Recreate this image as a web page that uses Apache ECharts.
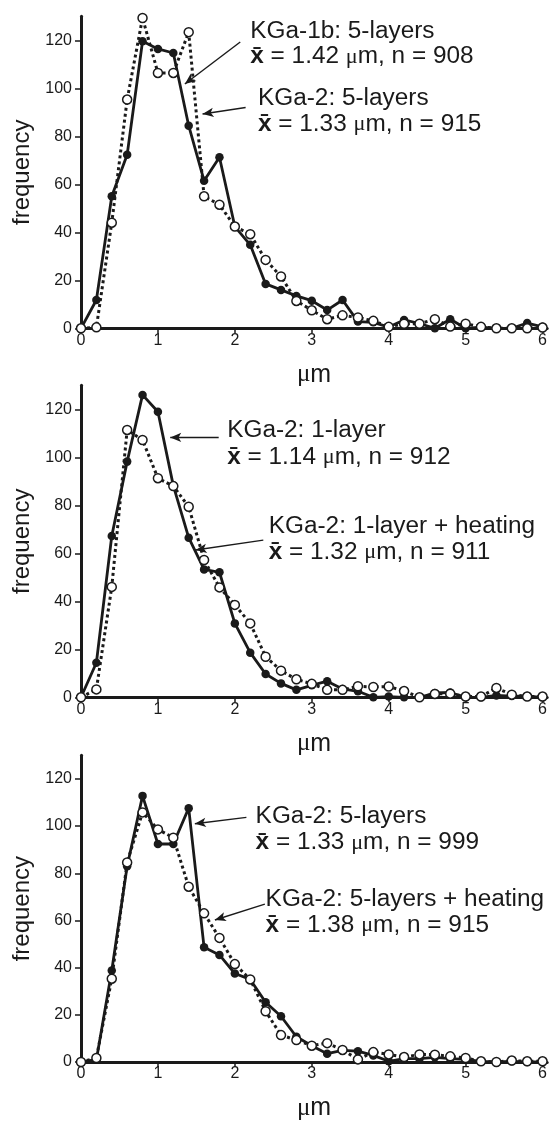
<!DOCTYPE html>
<html>
<head>
<meta charset="utf-8">
<script src="https://cdn.jsdelivr.net/npm/echarts@6/dist/echarts.min.js"></script>
<style>
html,body{margin:0;padding:0;background:#fff;}
#c{width:550px;height:1122px;}
</style>
</head>
<body>
<div id="c"></div>
<script>
// ---------- data ----------
const sizes = [0,0.2,0.4,0.6,0.8,1.0,1.2,1.4,1.6,1.8,2.0,2.2,2.4,2.6,2.8,3.0,3.2,3.4,3.6,3.8,4.0,4.2,4.4,4.6,4.8,5.0,5.2,5.4,5.6,5.8,6.0];
const xTicks = [0,1,2,3,4,5,6];
const yTicks = [0,20,40,60,80,100,120];

// panel 1
const kga1b5layers = [0,11.8,55,72.3,119.6,116.4,114.7,84.4,61.5,71.3,42.4,34.8,18.5,16,13.5,11.5,7.6,11.8,2.8,2.5,0.5,3.5,2,0,3.8,0,0.5,0,0,2.2,0.6];
const kga2_5layers_a = [0,0.4,44,95.3,129.3,106.4,106.4,123.4,55,51.5,42.4,39.2,28.5,21.6,11.4,7.5,3.8,5.4,4.5,3.1,0.6,1.9,1.9,3.8,0.7,1.9,0.6,0,0,0,0.3];
// panel 2
const kga2_1layer = [0,14.4,67.2,98.2,126,119,88.2,66.5,53.3,52.1,30.8,18.6,9.7,5.8,3.1,5,6.7,3.5,2.5,0,0.3,0,0,1.8,2,0,0,0.8,0.5,0.5,0];
const kga2_1layerHeat = [0,3.3,46,111.4,107.2,91.3,88,79.4,57.2,45.8,38.5,30.8,16.9,11.1,7.5,5.6,3.1,3.1,4.6,4.3,4.5,2.6,0,1.4,1.5,0.3,0.3,3.9,1.1,0.3,0.3];
// panel 3
const kga2_5layers_b = [0,1,38.8,83,112.8,92.4,92.4,107.6,48.6,45.4,37.5,35,25.3,19.4,10.7,6.9,3.5,4.9,4.6,2.8,0.3,1.4,1.4,2,1.4,1.1,0.3,0,0.3,0,0];
const kga2_5layersHeat = [0,1.7,35.3,84.6,105.8,98.6,95.1,74.3,63,52.6,41.5,35,21.5,11.4,9.3,6.9,8,5.1,1.1,4.2,3.2,2.1,3.2,3.1,2.4,1.7,0.3,0,0.6,0.3,0.3];

const panels = [
  {solid: kga1b5layers, dotted: kga2_5layers_a},
  {solid: kga2_1layer, dotted: kga2_1layerHeat},
  {solid: kga2_5layers_b, dotted: kga2_5layersHeat}
];

// annotation labels (title line, stats line) and their anchor in data coords
const labelTitles = [
  ['KGa-1b: 5-layers', 'KGa-2: 5-layers'],
  ['KGa-2: 1-layer', 'KGa-2: 1-layer + heating'],
  ['KGa-2: 5-layers', 'KGa-2: 5-layers + heating']
];
const labelMeans = [['1.42','1.33'],['1.14','1.32'],['1.33','1.38']];
const labelCounts = [['908','915'],['912','911'],['999','915']];
// [x, yTitleLine, yStatsLine]
const labelAnchors = [
  [[2.20,123.5,113.0],[2.30,95.5,85.0]],
  [[1.90,111.0,99.8],[2.44,71.0,60.2]],
  [[2.27,104.0,92.8],[2.40,68.8,58.0]]
];
// arrows: [[tailX,tailY],[tipX,tipY]]
const arrows = [
  [[[2.07,119.3],[1.35,101.8]], [[2.14,92.0],[1.58,89.3]]],
  [[[1.79,108.3],[1.16,108.3]], [[2.37,65.5],[1.49,61.4]]],
  [[[2.15,103.7],[1.48,101.0]], [[2.39,66.9],[1.74,60.2]]]
];

// ---------- layout ----------
const INK = '#1a1a1a';
const FONT = '"Liberation Sans", Arial, Helvetica, sans-serif';
const gridTops = [16.3, 385.3, 755.3];

const grids = [], xAxes = [], yAxes = [], series = [];
panels.forEach((p, i) => {
  grids.push({left: 81, top: gridTops[i], width: 468, height: 312, containLabel: false});
  xAxes.push({
    type: 'value', gridIndex: i, min: 0, max: 6.06,
    axisLine: {show: true, onZero: false, lineStyle: {color: INK, width: 3}},
    axisTick: {show: true, length: 5, lineStyle: {color: INK, width: 1.5}, customValues: xTicks},
    axisLabel: {show: true, color: INK, fontSize: 16, fontFamily: FONT, margin: 4, customValues: xTicks},
    splitLine: {show: false},
    name: '{mu|\u03bc}m', nameLocation: 'middle', nameGap: 34,
    nameTextStyle: {color: INK, fontSize: 25, fontFamily: FONT,
      rich: {mu: {fontSize: 25, fontFamily: '"Liberation Serif", "Times New Roman", serif', color: INK}}}
  });
  yAxes.push({
    type: 'value', gridIndex: i, min: 0, max: 130,
    axisLine: {show: true, onZero: false, lineStyle: {color: INK, width: 3}},
    axisTick: {show: true, length: 6, lineStyle: {color: INK, width: 1.5}, customValues: yTicks},
    axisLabel: {show: true, color: INK, fontSize: 16, fontFamily: FONT, margin: 9, customValues: yTicks},
    splitLine: {show: false},
    name: 'frequency', nameLocation: 'middle', nameRotate: 90, nameGap: 47,
    nameTextStyle: {color: INK, fontSize: 24, fontFamily: FONT}
  });
  series.push({
    type: 'line', xAxisIndex: i, yAxisIndex: i, clip: false,
    data: sizes.map((s, k) => [s, p.solid[k]]),
    symbol: 'circle', symbolSize: 8.5, showAllSymbol: true,
    itemStyle: {color: INK, borderColor: INK, borderWidth: 0},
    lineStyle: {color: INK, width: 2.8},
    z: 2,
    markLine: {
      silent: true, symbol: ['none', 'arrow'], symbolSize: [7, 11], animation: false,
      label: {show: false},
      lineStyle: {color: INK, width: 1.4, type: 'solid'},
      emphasis: {disabled: true},
      data: arrows[i].map(a => [{coord: a[0]}, {coord: a[1]}])
    }
  });
  series.push({
    type: 'line', xAxisIndex: i, yAxisIndex: i, clip: false,
    data: sizes.map((s, k) => [s, p.dotted[k]]),
    symbol: 'circle', symbolSize: 9, showAllSymbol: true,
    itemStyle: {color: '#fff', borderColor: INK, borderWidth: 1.5},
    lineStyle: {color: INK, width: 3, type: 'dotted'},
    z: 3
  });
});

const chart = echarts.init(document.getElementById('c'), null, {renderer: 'canvas'});
chart.setOption({
  animation: false,
  backgroundColor: '#fff',
  grid: grids, xAxis: xAxes, yAxis: yAxes, series: series
});

// annotation texts positioned through the axes' own scales
const gfx = [];
const richStyles = {
  mu: {fontSize: 21, fontFamily: '"Liberation Serif", "Times New Roman", serif', fill: INK},
  xb: {fontSize: 23, fontFamily: FONT, fontWeight: 'bold', fill: INK}
};
labelAnchors.forEach((pair, g) => {
  pair.forEach((a, j) => {
    const p1 = chart.convertToPixel({gridIndex: g}, [a[0], a[1]]);
    const p2 = chart.convertToPixel({gridIndex: g}, [a[0], a[2]]);
    gfx.push({type: 'text', x: p1[0], y: p1[1], scaleX: 1.06, silent: true, z: 10,
      style: {text: labelTitles[g][j], fill: INK, fontSize: 23, fontFamily: FONT, verticalAlign: 'middle', align: 'left'}});
    gfx.push({type: 'text', x: p2[0], y: p2[1], scaleX: 1.06, silent: true, z: 10,
      style: {text: '{xb|x\u0304} = ' + labelMeans[g][j] + ' {mu|\u03bc}m, n = ' + labelCounts[g][j],
        fill: INK, fontSize: 23, fontFamily: FONT, verticalAlign: 'middle', align: 'left', rich: richStyles}});
  });
});
chart.setOption({graphic: gfx});
</script>
</body>
</html>
